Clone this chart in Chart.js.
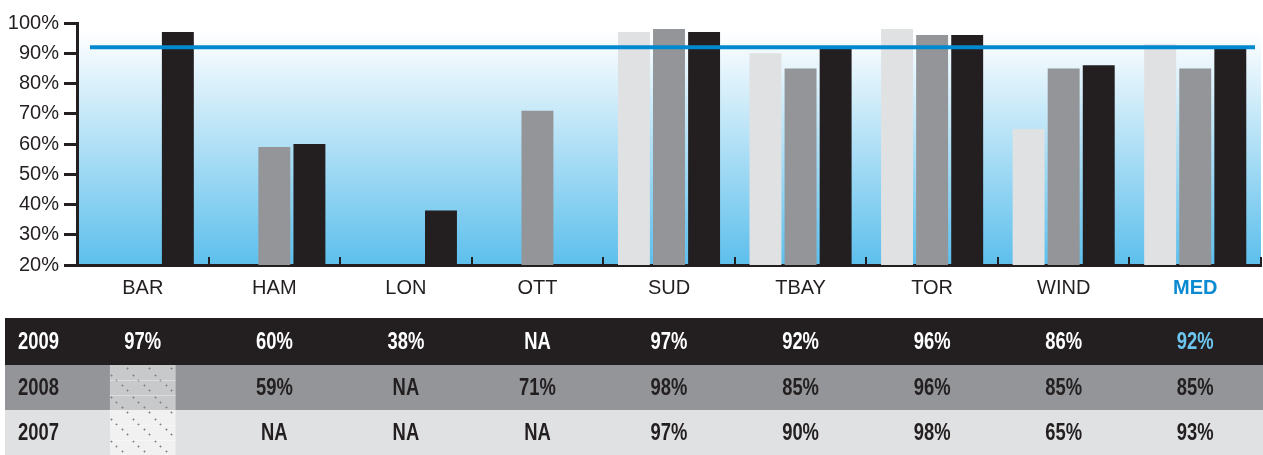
<!DOCTYPE html>
<html>
<head>
<meta charset="utf-8">
<script src="https://cdn.jsdelivr.net/npm/chart.js@4"></script>
<style>
  body { margin: 0; background: #fff; }
  canvas { display: block; }
</style>
</head>
<body>
<canvas id="chart" width="1263" height="455"></canvas>
<script>
// categories and series (null = NA)
const regions = ['BAR', 'HAM', 'LON', 'OTT', 'SUD', 'TBAY', 'TOR', 'WIND', 'MED'];
const values2009 = [97, 60, 38, null, 97, 92, 96, 86, 92];
const values2008 = [null, 59, null, 71, 98, 85, 96, 85, 85];
const values2007 = [null, null, null, null, 97, 90, 98, 65, 93];
const notSurveyed = { '2008': ['BAR'], '2007': ['BAR'] }; // hatched cells in the table
const target = 92; // MED 2009, blue line
const yMin = 20, yMax = 100, yStep = 10;

const dark = '#231f20';
const blue = '#0a8ad0';
const axisFont = '"Liberation Sans", Arial, sans-serif';

// diagonal dotted hatch for the cells with no survey
function makeHatch(bg) {
  const c = document.createElement('canvas');
  c.width = 22; c.height = 22;
  const g = c.getContext('2d');
  g.fillStyle = bg;
  g.fillRect(0, 0, 22, 22);
  [[1, 1], [6, 6], [12, 11], [17, 16]].forEach(([x, y]) => {
    g.fillStyle = 'rgba(120,121,124,0.45)';
    g.fillRect(x - 1, y, 3, 1);
    g.fillRect(x, y - 1, 1, 3);
    g.fillStyle = '#7f8083';
    g.fillRect(x, y, 1, 1);
  });
  return g.createPattern(c, 'repeat');
}

// condensed bold text for the table
function tableText(ctx, text, x, y, align) {
  ctx.save();
  ctx.translate(x, y);
  ctx.scale(0.8, 1);
  ctx.textAlign = align;
  ctx.fillText(text, 0, 0);
  ctx.restore();
}

const backgroundPlugin = {
  id: 'bgGradient',
  beforeDraw(chart) {
    const { ctx, chartArea: a } = chart;
    const grad = ctx.createLinearGradient(0, a.top, 0, a.bottom);
    grad.addColorStop(0, '#ffffff');
    grad.addColorStop(0.05, '#fdfeff');
    grad.addColorStop(1, '#5dbfec');
    ctx.save();
    ctx.fillStyle = grad;
    ctx.fillRect(a.left, a.top, a.right - a.left, a.bottom - a.top);
    ctx.restore();
  }
};

const targetPlugin = {
  id: 'targetLine',
  afterDatasetsDraw(chart) {
    const { ctx, chartArea: a } = chart;
    const y = chart.scales.y.getPixelForValue(target);
    ctx.save();
    ctx.strokeStyle = '#0089cf';
    ctx.lineWidth = 4;
    ctx.beginPath();
    ctx.moveTo(a.left + 13, y);
    ctx.lineTo(a.right - 6, y);
    ctx.stroke();
    ctx.restore();
  }
};

const tablePlugin = {
  id: 'dataTable',
  afterDraw(chart) {
    const ctx = chart.ctx;
    const xs = chart.scales.x;
    const rows = [
      { year: '2009', data: values2009, bg: dark, fg: '#ffffff', hatch: dark, top: 318, h: 47 },
      { year: '2008', data: values2008, bg: '#939598', fg: dark, hatch: '#c8c9cb', top: 365, h: 45 },
      { year: '2007', data: values2007, bg: '#e0e1e3', fg: dark, hatch: '#f1f1f2', top: 410, h: 45 }
    ];
    const half = (xs.getPixelForValue(1) - xs.getPixelForValue(0)) / 4;
    ctx.save();
    ctx.font = 'bold 23px ' + axisFont;
    ctx.textBaseline = 'alphabetic';
    rows.forEach(row => {
      const y0 = row.top;
      ctx.fillStyle = row.bg;
      ctx.fillRect(5, y0, chart.width - 5, row.h);
      const skip = notSurveyed[row.year] || [];
      skip.forEach(name => {
        const cx = xs.getPixelForValue(regions.indexOf(name));
        ctx.fillStyle = makeHatch(row.hatch);
        ctx.fillRect(cx - half, y0, half * 2, row.h);
        ctx.fillStyle = 'rgba(255,255,255,0.35)';
        ctx.fillRect(cx - half, y0 + Math.round(row.h / 3), half * 2, 1);
        ctx.fillRect(cx - half, y0 + Math.round(row.h * 2 / 3), half * 2, 1);
      });
      const base = y0 + row.h / 2 + 7;
      ctx.fillStyle = row.fg;
      tableText(ctx, row.year, 18, base, 'left');
      row.data.forEach((v, i) => {
        if (skip.includes(regions[i])) return;
        ctx.fillStyle = (regions[i] === 'MED' && row.year === '2009') ? '#6cc5ee' : row.fg;
        tableText(ctx, v == null ? 'NA' : v + '%', xs.getPixelForValue(i), base, 'center');
      });
    });
    ctx.restore();
  }
};

new Chart(document.getElementById('chart'), {
  type: 'bar',
  data: {
    labels: regions,
    datasets: [
      { label: '2007', data: values2007, backgroundColor: '#e0e1e3' },
      { label: '2008', data: values2008, backgroundColor: '#939598' },
      { label: '2009', data: values2009, backgroundColor: dark }
    ]
  },
  options: {
    responsive: false,
    animation: false,
    layout: { padding: { top: 23, right: 2, left: 0, bottom: 0 } },
    datasets: { bar: { categoryPercentage: 0.8, barPercentage: 0.91 } },
    plugins: { legend: { display: false }, tooltip: { enabled: false } },
    scales: {
      x: {
        afterFit(scale) { scale.height = 190; },
        border: { color: dark, width: 3 },
        grid: { drawOnChartArea: false, offset: true, tickLength: -8, lineWidth: 2, color: dark },
        ticks: {
          padding: 19,
          color: ctx => regions[ctx.index] === 'MED' ? blue : dark,
          font: ctx => ({ family: axisFont, size: 20, weight: regions[ctx.index] === 'MED' ? 'bold' : 'normal' })
        }
      },
      y: {
        min: yMin,
        max: yMax,
        afterFit(scale) { scale.width = 77; },
        border: { color: dark, width: 3 },
        grid: { drawOnChartArea: false, tickLength: 13, lineWidth: 3, color: dark },
        ticks: {
          stepSize: yStep,
          padding: 5,
          color: dark,
          font: { family: axisFont, size: 20 },
          callback: v => v + '%'
        }
      }
    }
  },
  plugins: [backgroundPlugin, targetPlugin, tablePlugin]
});
</script>
</body>
</html>
